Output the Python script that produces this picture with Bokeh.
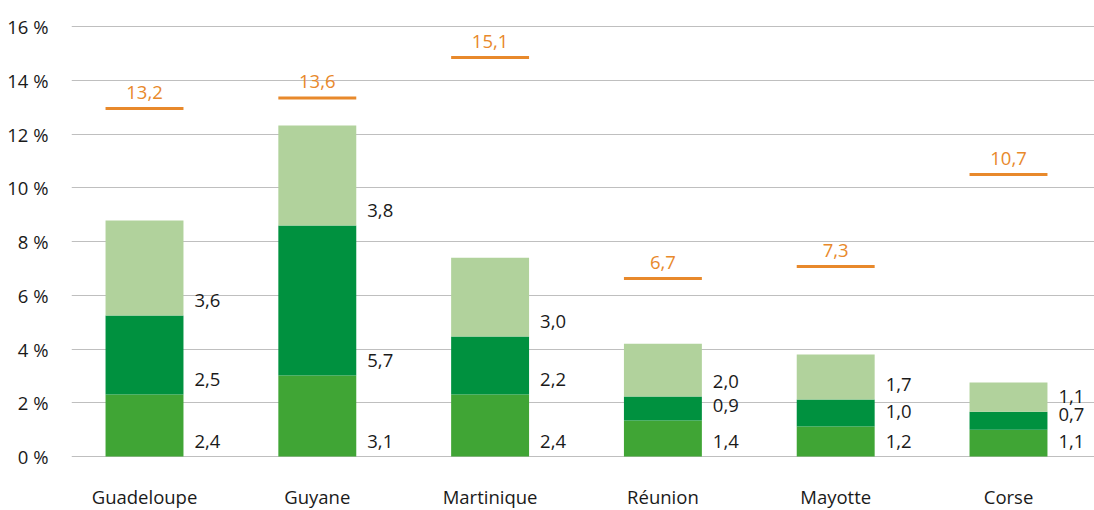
import numpy as np
from bokeh.plotting import figure
from bokeh.models import ColumnDataSource, FixedTicker, Range1d
from bokeh.embed import file_html
from bokeh.resources import INLINE
from bokeh.core.properties import value

# ---- data -------------------------------------------------------------
categories = ["Guadeloupe", "Guyane", "Martinique", "Réunion", "Mayotte", "Corse"]

# stacked segment heights (%), bottom -> top
seg_bottom = [2.31, 3.01, 2.31, 1.34, 1.12, 1.00]
seg_middle = [2.94, 5.59, 2.16, 0.89, 1.00, 0.67]
seg_top = [3.53, 3.72, 2.93, 1.97, 1.68, 1.08]

# printed labels of each segment
lab_bottom = ["2,4", "3,1", "2,4", "1,4", "1,2", "1,1"]
lab_middle = ["2,5", "5,7", "2,2", "0,9", "1,0", "0,7"]
lab_top = ["3,6", "3,8", "3,0", "2,0", "1,7", "1,1"]

ref_values = [12.95, 13.34, 14.85, 6.62, 7.07, 10.49]
ref_labels = ["13,2", "13,6", "15,1", "6,7", "7,3", "10,7"]

y_ticks = [0, 2, 4, 6, 8, 10, 12, 14, 16]
y_tick_labels = ["0 %", "2 %", "4 %", "6 %", "8 %", "10 %", "12 %", "14 %", "16 %"]

# ---- styling ----------------------------------------------------------
FONT = "Open Sans"
FS = "18.5px"
C_BOTTOM = "#40A535"
C_MIDDLE = "#00913F"
C_TOP = "#B1D29C"
C_REF = "#E8892B"
C_TEXT = "#1A1A1A"
BAR_W = 0.451

xs = list(range(len(categories)))
b = np.array(seg_bottom)
m = np.array(seg_middle)
t = np.array(seg_top)

p = figure(width=1094, height=510, output_backend="svg", toolbar_location=None,
           x_range=Range1d(-0.4225, 5.4977), y_range=Range1d(-2.009, 16.298),
           min_border_left=71, min_border_right=0, min_border_top=18,
           min_border_bottom=0, background_fill_color="white",
           border_fill_color="white")
p.outline_line_color = None

src = ColumnDataSource(dict(x=xs, b=seg_bottom, m=seg_middle, t=seg_top))
p.vbar_stack(["b", "m", "t"], x="x", width=BAR_W, source=src,
             color=[C_BOTTOM, C_MIDDLE, C_TOP], line_width=0)

# segment labels to the right of each bar
xl = [x + BAR_W / 2 for x in xs]
lab_src = ColumnDataSource(dict(
    x=xl * 3,
    y=list(np.zeros(len(xs))) + list(b) + list(b + m),
    text=lab_bottom + lab_middle + lab_top,
))
p.text(x="x", y="y", text="text", source=lab_src, text_font=value(FONT),
       text_font_size=FS, text_color=C_TEXT, text_align="left",
       text_baseline="middle", x_offset=11, y_offset=-15)

# orange reference marks
ref_src = ColumnDataSource(dict(
    x0=[x - BAR_W / 2 for x in xs], x1=[x + BAR_W / 2 for x in xs],
    x=xs, y=ref_values, text=ref_labels,
))
p.segment(x0="x0", y0="y", x1="x1", y1="y", source=ref_src,
          line_color=C_REF, line_width=3)
p.text(x="x", y="y", text="text", source=ref_src, text_font=value(FONT),
       text_font_size=FS, text_color=C_REF, text_align="center",
       text_baseline="middle", y_offset=-16)

# category labels under the baseline (kept fully inside the picture)
cat_src = ColumnDataSource(dict(x=xs, y=[0] * len(xs), text=categories))
p.text(x="x", y="y", text="text", source=cat_src, text_font=value(FONT),
       text_font_size=FS, text_color=C_TEXT, text_align="center",
       text_baseline="bottom", y_offset=52)

# grid
p.xgrid.visible = False
p.ygrid.ticker = FixedTicker(ticks=y_ticks)
p.ygrid.grid_line_color = "#BFBFBF"
p.ygrid.grid_line_width = 1

# y axis
p.yaxis.ticker = FixedTicker(ticks=y_ticks)
p.yaxis.major_label_overrides = {v: s for v, s in zip(y_ticks, y_tick_labels)}
p.yaxis.axis_line_color = None
p.yaxis.major_tick_line_color = None
p.yaxis.minor_tick_line_color = None
p.yaxis.major_label_standoff = 17
p.yaxis.major_label_text_font = FONT
p.yaxis.major_label_text_font_size = FS
p.yaxis.major_label_text_color = C_TEXT

# x axis replaced by the category text above
p.xaxis.visible = False

open("out.html", "w").write(file_html(p, INLINE))
